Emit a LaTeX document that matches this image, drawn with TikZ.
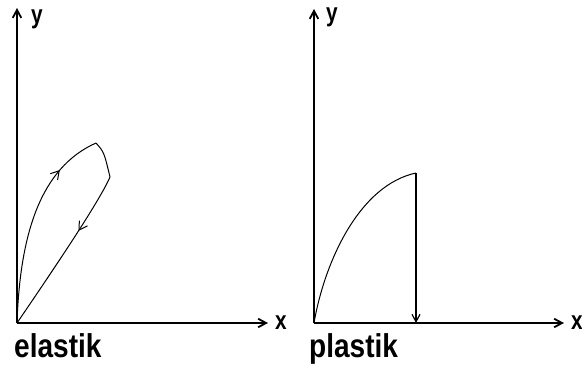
\documentclass[tikz,border=0pt]{standalone}
\usepackage{fontspec}
\setmainfont{Liberation Sans}
\usepackage{tikz}
\usetikzlibrary{arrows.meta,decorations.markings}
\newcommand{\axislabel}[1]{\scalebox{0.8}[1]{\fontsize{26}{26}\selectfont\bfseries #1}}
\newcommand{\casename}[1]{\scalebox{0.85}[1]{\fontsize{33}{33}\selectfont\bfseries #1}}

\begin{document}
\begin{tikzpicture}[
  x=1pt, y=-1pt,
  axis/.style={-{Straight Barb[length=2.8mm,width=3mm]}, line width=1.8pt},
  curve/.style={line width=1pt},
  drop/.style={-{Straight Barb[length=2.6mm,width=2.8mm]}, line width=1.2pt},
  midarrow/.style={postaction={decorate}, decoration={markings,
      mark=at position #1 with {\arrow{Straight Barb[length=2.8mm,width=3.4mm]}}}},
  label/.style={inner sep=0pt, anchor=base west}
]
\useasboundingbox (0,0) rectangle (582,370);

% elastik
\coordinate (o1) at (17,323);
\coordinate (ytop1) at (17,8);
\coordinate (xend1) at (268,323);
\coordinate (peak1) at (96,143);
\coordinate (knee1) at (110,177);
\draw[axis] (o1) -- (ytop1);
\draw[axis] (o1) -- (xend1);
\draw[curve, midarrow=0.78] (o1) .. controls (20,235) and (40,168) .. (peak1);
\draw[curve] (peak1) .. controls (104,152) .. (knee1);
\draw[curve, midarrow=0.36] (knee1) .. controls (100,200) and (60,260) .. (o1);
\node[label] (ylab1) at (31,23) {\axislabel{y}};
\node[label] (xlab1) at (275,329) {\axislabel{x}};
\node[label] (name1) at (14,357) {\casename{elastik}};

% plastik
\coordinate (o2) at (314,323);
\coordinate (ytop2) at (314,9);
\coordinate (xend2) at (564,323);
\coordinate (top2) at (416,173);
\coordinate (foot2) at (416,323);
\draw[axis] (o2) -- (ytop2);
\draw[axis] (o2) -- (xend2);
\draw[curve] (o2) .. controls (325,260) and (360,185) .. (top2);
\draw[drop] (top2) -- (foot2);
\node[label] (ylab2) at (326,21) {\axislabel{y}};
\node[label] (xlab2) at (571,329) {\axislabel{x}};
\node[label] (name2) at (309,357) {\casename{plastik}};
\end{tikzpicture}
\end{document}
